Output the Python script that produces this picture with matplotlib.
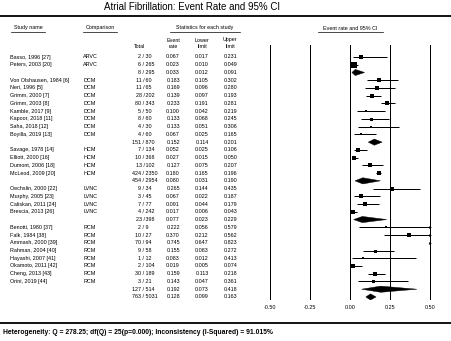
import matplotlib
matplotlib.use('Agg')
import matplotlib.pyplot as plt
from matplotlib.patches import Polygon

plt.rcParams['font.family'] = ['Liberation Sans', 'DejaVu Sans']

title = "Atrial Fibrillation: Event Rate and 95% CI"
study_names = ["Basso, 1996 [27]", "Peters, 2003 [20]", "",
               "Von Olshausen, 1984 [6]", "Neri, 1996 [5]", "Grimm, 2000 [7]", "Grimm, 2003 [8]",
               "Kamble, 2017 [9]", "Kapoor, 2018 [11]", "Saha, 2018 [12]", "Boyilla, 2019 [13]", "",
               "Savage, 1978 [14]", "Elliott, 2000 [16]", "Dumont, 2006 [18]", "McLeod, 2009 [20]", "",
               "Oechslin, 2000 [22]", "Murphy, 2005 [23]", "Caliskan, 2011 [24]", "Brescia, 2013 [26]", "",
               "Benotti, 1980 [37]", "Falk, 1984 [38]", "Ammash, 2000 [39]", "Rahman, 2004 [40]",
               "Hayashi, 2007 [41]", "Okamoto, 2011 [42]", "Cheng, 2013 [43]", "Orini, 2019 [44]", "", ""]
comparisons = ["ARVC", "ARVC", "",
               "DCM", "DCM", "DCM", "DCM", "DCM", "DCM", "DCM", "DCM", "",
               "HCM", "HCM", "HCM", "HCM", "",
               "LVNC", "LVNC", "LVNC", "LVNC", "",
               "RCM", "RCM", "RCM", "RCM", "RCM", "RCM", "RCM", "RCM", "", ""]
events = [2, 6, 8,
          11, 11, 28, 80, 5, 8, 4, 4, 151,
          7, 10, 13, 424, 454,
          9, 3, 7, 4, 23,
          2, 10, 70, 9, 1, 2, 30, 3, 127, 763]
totals = [30, 265, 295,
          60, 65, 202, 343, 50, 60, 30, 60, 870,
          134, 368, 102, 2350, 2954,
          34, 45, 77, 242, 398,
          9, 27, 94, 58, 12, 104, 189, 21, 514, 5031]
event_rate = [0.067, 0.023, 0.033,
              0.183, 0.169, 0.139, 0.233, 0.100, 0.133, 0.133, 0.067, 0.152,
              0.052, 0.027, 0.127, 0.180, 0.080,
              0.265, 0.067, 0.091, 0.017, 0.077,
              0.222, 0.370, 0.745, 0.155, 0.083, 0.019, 0.159, 0.143, 0.192, 0.128]
lower_limit = [0.017, 0.010, 0.012,
               0.105, 0.096, 0.097, 0.191, 0.042, 0.068, 0.051, 0.025, 0.114,
               0.025, 0.015, 0.075, 0.165, 0.031,
               0.144, 0.022, 0.044, 0.006, 0.023,
               0.056, 0.212, 0.647, 0.083, 0.012, 0.005, 0.113, 0.047, 0.073, 0.099]
upper_limit = [0.231, 0.049, 0.091,
               0.302, 0.280, 0.193, 0.281, 0.219, 0.245, 0.306, 0.165, 0.201,
               0.106, 0.050, 0.207, 0.196, 0.190,
               0.435, 0.187, 0.179, 0.043, 0.229,
               0.579, 0.562, 0.823, 0.272, 0.413, 0.074, 0.218, 0.361, 0.418, 0.163]
is_summary = [False, False, True,
              False, False, False, False, False, False, False, False, True,
              False, False, False, False, True,
              False, False, False, False, True,
              False, False, False, False, False, False, False, False, True, True]
x_ticks = [-0.50, -0.25, 0.00, 0.25, 0.50]
heterogeneity = ("Heterogeneity: Q = 278.25; df(Q) = 25(p=0.000); "
                 "Inconsistency (I-Squared) = 91.015%")

# style: box side in pixels for each study row
box_px = [3.5, 5.5, 0,
          3.5, 3.5, 4, 4.5, 2.5, 3, 2.5, 2.5, 0,
          3.5, 3.5, 3.5, 4.5, 0,
          3.5, 3.5, 3.5, 3.5, 0,
          2.5, 3.5, 3.5, 3, 2.5, 3.5, 3.5, 3, 0, 0]

W, H = 451, 341
fig = plt.figure(figsize=(W / 100, H / 100), dpi=100)
bg = fig.add_axes([0, 0, 1, 1])
bg.set_xlim(0, W)
bg.set_ylim(H, 0)
bg.axis('off')

row0, dy = 57.0, 7.74
def ry(i):
    return row0 + i * dy

fs = 3.85
# title and rules
bg.text(192, 7.5, title, ha='center', va='center', fontsize=7.0)
bg.plot([0, W], [15.5, 15.5], color='black', lw=1.3)
bg.plot([0, W], [323, 323], color='black', lw=1.3)

# headers
hdr_y = 28
for x0, x1, txt in [(11, 45, "Study name"), (83, 117, "Comparison"),
                    (170, 240, "Statistics for each study"),
                    (318, 383, "Event rate and 95% CI")]:
    bg.text((x0 + x1) / 2, hdr_y, txt, ha='center', va='center', fontsize=fs)
    bg.plot([x0, x1], [hdr_y + 3.5, hdr_y + 3.5], color='black', lw=0.5)

bg.text(140, 46, "Total", ha='center', va='center', fontsize=fs)
for xc, l1, l2 in [(173, "Event", "rate"), (202, "Lower", "limit"), (230, "Upper", "limit")]:
    bg.text(xc, 40, l1, ha='center', va='center', fontsize=fs)
    bg.text(xc, 46, l2, ha='center', va='center', fontsize=fs)

for i in range(len(events)):
    y = ry(i)
    bg.text(10, y, study_names[i], ha='left', va='center', fontsize=fs)
    bg.text(83, y, comparisons[i], ha='left', va='center', fontsize=fs)
    bg.text(144.5, y, f"{events[i]} /", ha='right', va='center', fontsize=fs)
    bg.text(144.5, y, f" {totals[i]}", ha='left', va='center', fontsize=fs)
    bg.text(180, y, f"{event_rate[i]:.3f}", ha='right', va='center', fontsize=fs)
    bg.text(208.5, y, f"{lower_limit[i]:.3f}", ha='right', va='center', fontsize=fs)
    bg.text(237.5, y, f"{upper_limit[i]:.3f}", ha='right', va='center', fontsize=fs)

bg.text(3, 333, heterogeneity, ha='left', va='center', fontsize=4.9, fontweight='bold')

# forest plot axes
px_l, px_r, px_t, px_b = 262, 438, 45, 300
ax = fig.add_axes([px_l / W, (H - px_b) / H, (px_r - px_l) / W, (px_b - px_t) / H])
ax.set_xlim((px_l - 350) / 160.0, (px_r - 350) / 160.0)
y_lo, y_hi = (px_b - row0) / dy, (px_t - row0) / dy
ax.set_ylim(y_lo, y_hi)
ax.patch.set_alpha(0)
for s in ax.spines.values():
    s.set_visible(False)
ax.set_yticks([])
ax.set_xticks(x_ticks)
ax.set_xticklabels([f"{t:.2f}" for t in x_ticks], fontsize=fs)
ax.tick_params(axis='x', length=0, pad=3.5)
for t in x_ticks:
    ax.plot([t, t], [y_hi, y_lo], color='black', lw=0.72, zorder=1,
            antialiased=False, solid_capstyle='butt')

xmax = x_ticks[-1]
for i in range(len(events)):
    est, lo, hi = event_rate[i], lower_limit[i], upper_limit[i]
    if is_summary[i]:
        h = 0.4
        ax.add_patch(Polygon([(lo, i), (est, i - h), (hi, i), (est, i + h)],
                             closed=True, facecolor='black', edgecolor='black', lw=0.3, zorder=3))
    else:
        if lo < xmax:
            ax.plot([lo, min(hi, xmax)], [i, i], color='black', lw=0.72, zorder=2,
                    solid_capstyle='butt')
        if est <= xmax:
            ax.plot(est, i, marker='s', ms=box_px[i] * 0.72, color='black', mew=0, zorder=3)
        if hi > xmax:
            ax.plot(xmax, i, marker='>', ms=2.0, color='black', mew=0, zorder=3)

fig.savefig('out.png', dpi=100)
